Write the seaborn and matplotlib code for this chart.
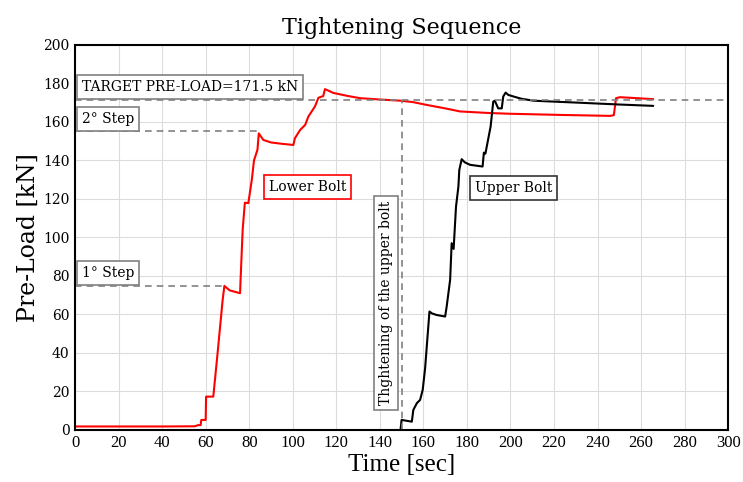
import pandas as pd
import matplotlib
matplotlib.use("Agg")
import matplotlib.pyplot as plt
import seaborn as sns

# Lower bolt (red)
lower_t = [0, 20, 40, 55, 56.5, 57.7, 58, 60, 60.2, 63.5, 65.4, 67.8, 68.6, 71, 75.8, 76, 77, 78,
           79.6, 81.2, 82.2, 83.8, 84.4, 86.5, 90, 95, 100.3, 101, 103.4, 105.7, 107.2, 110.2,
           111.8, 114, 114.8, 118.7, 125, 130.9, 140, 149.3, 155, 161.5, 170, 176.9, 190, 199.8,
           222.8, 245.8, 247.5, 248.5, 250.3, 265.6]
lower_v = [1.8, 1.8, 1.8, 1.9, 2.5, 2.5, 5.2, 5.2, 17.3, 17.3, 39, 67.5, 74.8, 72.5, 71, 77, 104, 118,
           117.8, 129.9, 140, 145.5, 154, 150.6, 149.3, 148.6, 148, 151.5, 155.8, 158.4, 162.8, 168,
           172.5, 173.4, 177, 175, 173.5, 172.3, 171.6, 171, 170.3, 168.8, 167, 165.4, 164.6, 164.2,
           163.6, 163.1, 163.5, 172.3, 172.8, 171.8]

# Upper bolt (black)
upper_t = [149.5, 150, 154.7, 155.4, 157, 158.5, 159.7, 160.8, 161.8, 162.8, 164, 166.1, 170,
           170.7, 172.3, 173, 173.9, 175, 176.1, 176.5, 177.6, 179, 181.4, 187.2, 187.8, 188.5,
           190.9, 192.1, 192.8, 194.4, 196, 196.7, 197.8, 199, 201.3, 205, 210.5, 220, 230.4,
           250, 265.6]
upper_v = [0, 5.2, 4.3, 10.4, 13.9, 15.6, 20.8, 32, 46.8, 61.5, 60.5, 59.7, 58.9,
           64, 78, 97, 94, 116, 126.4, 135, 140.6, 139, 137.7, 136.8, 144, 143.5,
           157.6, 170.5, 171, 167, 167, 173.2, 175.2, 174, 173.2, 172, 171, 170.5, 170,
           169, 168.3]

target = 171.5
step1 = 75
step2 = 155
x_ticks = list(range(0, 301, 20))
y_ticks = list(range(0, 201, 20))

df = pd.concat([
    pd.DataFrame({"Time": lower_t, "Load": lower_v, "Bolt": "Lower Bolt"}),
    pd.DataFrame({"Time": upper_t, "Load": upper_v, "Bolt": "Upper Bolt"}),
])

sns.set_style("whitegrid", {"grid.color": "#dcdcdc", "axes.edgecolor": "black",
                            "text.color": "black", "axes.labelcolor": "black",
                            "xtick.color": "black", "ytick.color": "black"})
fig = plt.figure(figsize=(7.43, 4.82), dpi=100)
ax = fig.add_axes([0.101, 0.108, 0.879, 0.799])

sns.lineplot(data=df, x="Time", y="Load", hue="Bolt", palette={"Lower Bolt": "red", "Upper Bolt": "black"},
             sort=False, estimator=None, linewidth=1.5, legend=False, ax=ax)

dash = dict(color="gray", linestyle=(0, (4, 3)), linewidth=1.2)
ax.plot([0, 300], [target, target], **dash)
ax.plot([150, 150], [0, target], **dash)
ax.plot([0, 84.4], [step2, step2], **dash)
ax.plot([0, 68.6], [step1, step1], **dash)

ax.set_xlim(0, 300)
ax.set_ylim(0, 200)
ax.set_xticks(x_ticks)
ax.set_yticks(y_ticks)
for s in ax.spines.values():
    s.set_linewidth(1.5)
    s.set_color("black")

ax.set_title("Tightening Sequence", fontsize=16, family="DejaVu Serif", pad=8, color="black")
ax.set_xlabel("Time [sec]", fontsize=18, family="Liberation Serif", labelpad=2)
ax.set_ylabel("Pre-Load [kN]", fontsize=17, family="DejaVu Serif", labelpad=2)
for lab in ax.get_xticklabels():
    lab.set_fontfamily("Liberation Serif")
    lab.set_fontsize(12)
for lab in ax.get_yticklabels():
    lab.set_fontfamily("DejaVu Serif")
    lab.set_fontsize(10)
ax.tick_params(axis="both", length=0, pad=4)

box = dict(boxstyle="square,pad=0.35", fc="white", ec="gray", lw=1.2)
tkw = dict(family="DejaVu Serif", fontsize=10, va="center", ha="left", color="black")
ax.text(3, 178.2, "TARGET PRE-LOAD=171.5 kN", bbox=box, **tkw)
ax.text(3, 161.5, "2° Step", bbox=box, **tkw)
ax.text(3, 81.5, "1° Step", bbox=box, **tkw)
ax.text(89, 126, "Lower Bolt", bbox=dict(box, ec="red"), **tkw)
ax.text(183.5, 125.5, "Upper Bolt", bbox=dict(box, ec="#333333"), **tkw)
ax.text(142.8, 66, "Thghtening of the upper bolt", rotation=90, bbox=box,
        family="DejaVu Serif", fontsize=10, va="center", ha="center", color="black")

fig.savefig("out.png", dpi=100)
